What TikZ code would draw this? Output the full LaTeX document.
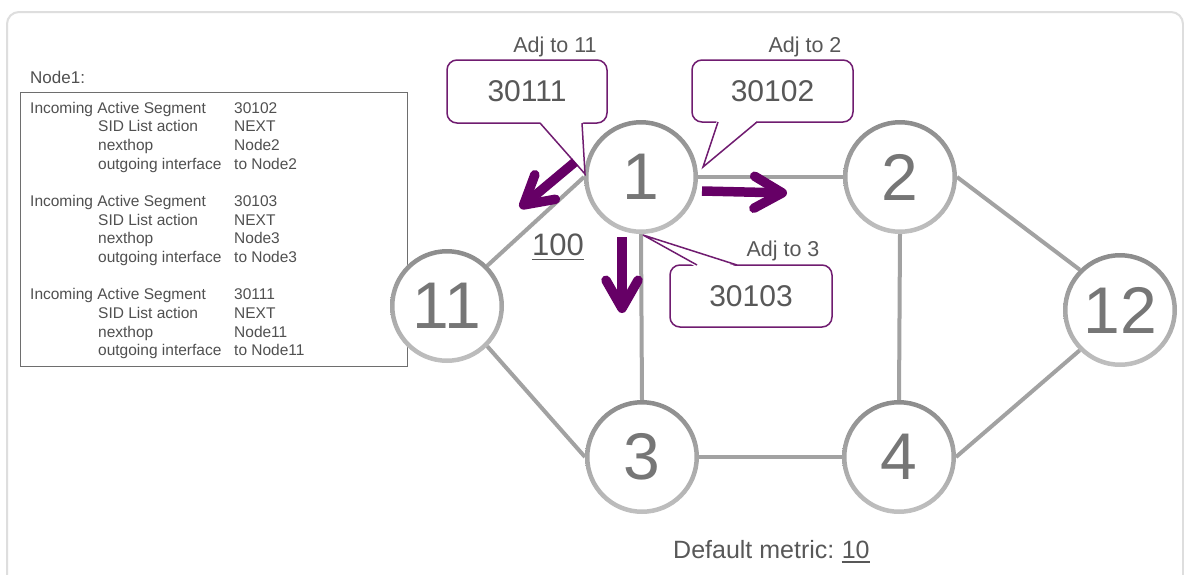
\documentclass[tikz,border=0pt]{standalone}
\usepackage{fontspec}
\setmainfont{Liberation Sans}
\usetikzlibrary{arrows.meta}

\definecolor{framegray}{RGB}{222,222,222}
\definecolor{linkgray}{RGB}{162,162,162}
\definecolor{ringtop}{RGB}{140,140,140}
\definecolor{ringbot}{RGB}{192,192,192}
\definecolor{nodetext}{RGB}{118,118,118}
\definecolor{labeltext}{RGB}{88,88,88}
\definecolor{tabletext}{RGB}{80,80,80}
\definecolor{tableframe}{RGB}{110,110,110}
\definecolor{hoppurple}{RGB}{102,0,102}
\definecolor{bubbleborder}{RGB}{112,28,112}

\tikzset{
  router/.style={circle, minimum size=114pt, inner sep=0pt, outer sep=0pt,
    fill=white, font=\fontsize{66}{66}\selectfont, text=nodetext},
  link/.style={line width=4pt, draw=linkgray},
  hop/.style={line width=9.5pt, draw=hoppurple,
    -{Straight Barb[length=28pt,width=32pt,round]}},
  bubble/.style={draw=bubbleborder, line width=1.5pt, fill=white,
    rounded corners=10pt, inner sep=0pt, text=labeltext,
    font=\fontsize{30}{30}\selectfont},
  bubbleline/.style={draw=bubbleborder, line width=1.5pt, line join=miter},
  adjlabel/.style={anchor=base, inner sep=0pt, text=labeltext,
    font=\fontsize{21.5}{21.5}\selectfont},
  tabtext/.style={anchor=base west, inner sep=0pt, text=tabletext,
    font=\fontsize{15.5}{15.5}\selectfont},
}

\begin{document}
\begin{tikzpicture}[x=1pt,y=-1pt]
\useasboundingbox (0,0) rectangle (1184,574);
\fill[white] (0,0) rectangle (1184,574);

% outer frame, open at the bottom
\begin{scope}
  \clip (0,0) rectangle (1184,574);
  \draw[framegray, line width=2pt, rounded corners=12pt] (7,12) rectangle (1183,640);
\end{scope}

% forwarding table of Node1
\node[anchor=base west, inner sep=0pt, text=tabletext,
  font=\fontsize{17}{17}\selectfont] (title) at (30,83) {Node1:};
\node[draw=tableframe, line width=1.2pt, anchor=north west, inner sep=0pt,
  minimum width=387pt, minimum height=274pt] (tbl) at (20,92) {};
\foreach \sid/\hop [count=\i from 0] in {30102/Node2, 30103/Node3, 30111/Node11} {
  \pgfmathsetmacro{\yb}{113.3+93.3*\i}
  \node[tabtext] at (30,\yb) {Incoming Active Segment};
  \node[tabtext] at (234,\yb) {\sid};
  \node[tabtext] at (98,\yb+18.6) {SID List action};
  \node[tabtext] at (234,\yb+18.6) {NEXT};
  \node[tabtext] at (98,\yb+37.2) {nexthop};
  \node[tabtext] at (234,\yb+37.2) {\hop};
  \node[tabtext] at (98,\yb+55.8) {outgoing interface};
  \node[tabtext] at (234,\yb+55.8) {to \hop};
}

% routers
\node[router] (n1)  at (641,177) {1};
\node[router] (n2)  at (900,177) {2};
\node[router] (n11) at (447,306) {11};
\node[router] (n12) at (1120,310) {12};
\node[router] (n3)  at (642,457) {3};
\node[router] (n4)  at (899,457) {4};

% links
\draw[link] (n1.west) -- (n11.45);
\draw[link] (n11.-45) -- (n3.west);
\draw[link] (n1.east) -- (n2.west);
\draw[link] (n1.south) -- (n3.north);
\draw[link] (n2.south) -- (n4.north);
\draw[link] (n3.east) -- (n4.west);
\draw[link] (n2.east) -- (n12.135);
\draw[link] (n4.east) -- (n12.-135);

% router rings, darker on top
\foreach \n in {n1,n2,n3,n4,n11,n12}
  \shade[top color=ringtop, bottom color=ringbot, even odd rule]
    (\n.center) circle (57pt) circle (52.5pt);

% metric of the link 1-11
\node[anchor=base, inner sep=0pt, text=labeltext,
  font=\fontsize{31}{31}\selectfont] (m100) at (558,255) {100};
\draw[labeltext, line width=1.8pt] ([yshift=-4.5pt]m100.base west) -- ([yshift=-4.5pt]m100.base east);

% adjacency SID callouts
\node[bubble, minimum width=160pt, minimum height=63pt] (c11) at (527,91.5) {30111};
\coordinate (t11) at (585,174);
\fill[white] (539,121) -- (t11) -- (583,121) -- cycle;
\draw[bubbleline] (540,123) -- (t11) -- (582,123);
\node[adjlabel] (a11) at (555,52.3) {Adj to 11};

\node[bubble, minimum width=161pt, minimum height=62pt] (c2) at (772.5,91) {30102};
\coordinate (t2) at (703,167);
\fill[white] (717,120) -- (t2) -- (758,120) -- cycle;
\draw[bubbleline] (718,122) -- (t2) -- (757,122);
\node[adjlabel] (a2) at (805,52.3) {Adj to 2};

\node[bubble, minimum width=162pt, minimum height=62pt] (c3) at (751,296) {30103};
\coordinate (t3) at (643,235);
\fill[white] (696,267) -- (t3) -- (738,267) -- cycle;
\draw[bubbleline] (697,265) -- (t3) -- (737,265);
\node[adjlabel] (a3) at (783,256) {Adj to 3};

% forwarding directions out of Node1
\coordinate (h11s) at (575,162);
\coordinate (h11e) at (520,208);
\coordinate (h2s) at (702,191);
\coordinate (h2e) at (787,193);
\coordinate (h3s) at (622,237);
\coordinate (h3e) at (622,313);
\draw[hop] (h11s) -- (h11e);
\draw[hop] (h2s) -- (h2e);
\draw[hop] (h3s) -- (h3e);

% default metric note
\node[anchor=base west, inner sep=0pt, text=labeltext,
  font=\fontsize{25}{25}\selectfont] (dm) at (673,558) {Default metric:};
\node[anchor=base west, inner sep=0pt, text=labeltext,
  font=\fontsize{25}{25}\selectfont] (dm10) at ([xshift=7pt]dm.base east) {10};
\draw[labeltext, line width=1.5pt] ([yshift=-4pt]dm10.base west) -- ([yshift=-4pt]dm10.base east);
\end{tikzpicture}
\end{document}
